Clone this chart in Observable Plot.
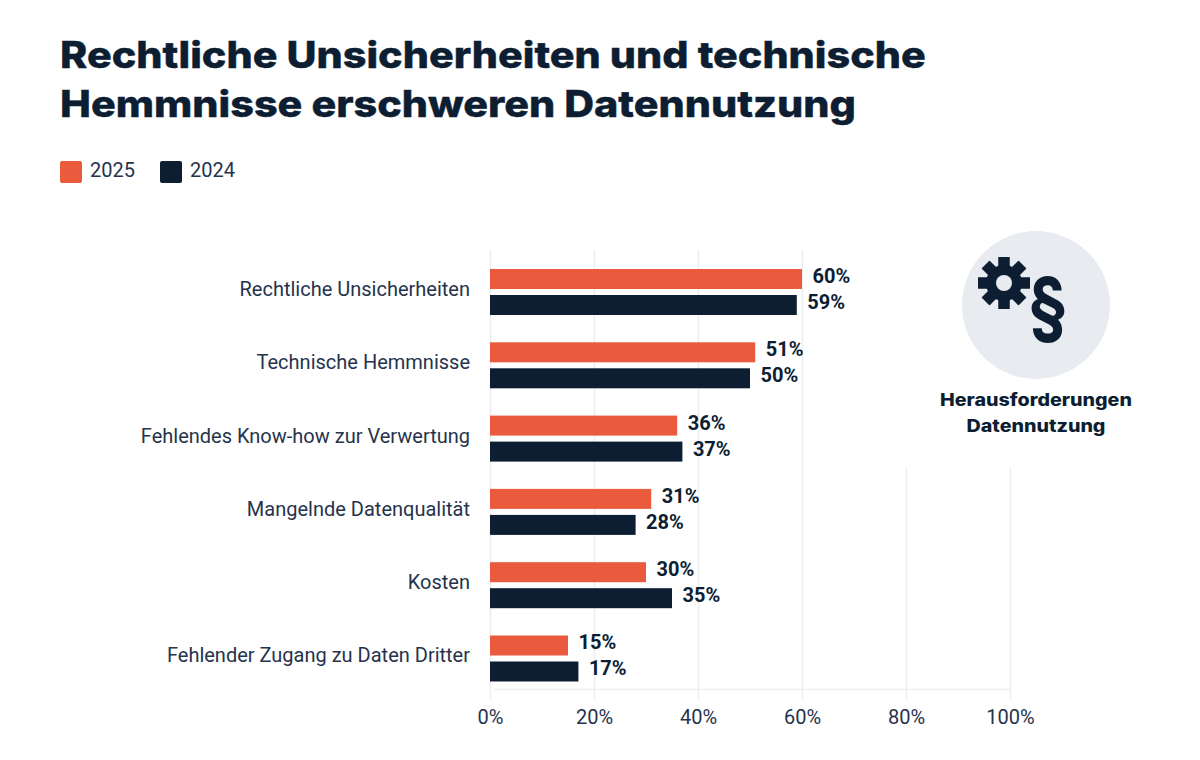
<!DOCTYPE html>
<html lang="de">
<head>
<meta charset="utf-8">
<script src="https://cdn.jsdelivr.net/npm/d3@7"></script>
<script src="https://cdn.jsdelivr.net/npm/@observablehq/plot@0.6"></script>
<style>
html,body{margin:0;padding:0;background:#fff;width:1200px;height:760px;overflow:hidden;}
#page{position:relative;width:1200px;height:760px;}
#head{position:relative;height:210px;}
h1{position:absolute;left:60px;top:30px;margin:0;font:800 37px/49px Inter,sans-serif;color:#0d1e33;white-space:nowrap;transform-origin:0 0;transform:scaleX(1.116);-webkit-text-stroke:0.4px #0d1e33;}
.lg{position:absolute;top:161px;width:22px;height:22px;border-radius:2px;}
.lt{position:absolute;top:157px;font:400 20px/26px Roboto,sans-serif;color:#26334c;}
#chart{position:absolute;left:0;top:210px;}
#panel{position:absolute;left:900px;top:225px;width:272px;height:242px;background:#fff;}
#panel svg{position:absolute;left:0;top:0;}
#cap{position:absolute;left:0;width:272px;top:161.5px;text-align:center;font:800 17px/26px Inter,sans-serif;color:#0d1e33;transform:scaleX(1.157);}
</style>
</head>
<body>
<div id="page">
  <div id="head">
    <h1>Rechtliche Unsicherheiten und technische<br>Hemmnisse erschweren Datennutzung</h1>
    <div class="lg" style="left:60px;background:#e95b3c"></div><div class="lt" style="left:90px">2025</div>
    <div class="lg" style="left:160px;background:#0d1e33"></div><div class="lt" style="left:190px">2024</div>
  </div>
  <div id="chart"></div>
  <div id="panel">
    <svg width="272" height="160" viewBox="0 0 272 160">
      <circle cx="136" cy="80" r="74" fill="#e8ebf0"/>
      <g id="gear" transform="translate(104,58)" fill="#0d1e33"></g>
      <text transform="translate(148,107) scale(0.9,1)" text-anchor="middle" font-family="Inter,sans-serif" font-weight="700" font-size="76" fill="#0d1e33">§</text>
    </svg>
    <div id="cap">Herausforderungen<br>Datennutzung</div>
  </div>
</div>
<script>
const categories = ["Rechtliche Unsicherheiten","Technische Hemmnisse","Fehlendes Know-how zur Verwertung","Mangelnde Datenqualität","Kosten","Fehlender Zugang zu Daten Dritter"];
const values2025 = [60,51,36,31,30,15];
const values2024 = [59,50,37,28,35,17];
const colors = ["#e95b3c","#0d1e33"];
const xTicks = [0,20,40,60,80,100];

const rows2025 = categories.map((c,i)=>({cat:c,v:values2025[i]}));
const rows2024 = categories.map((c,i)=>({cat:c,v:values2024[i]}));

// gear icon
const gear = d3.select("#gear");
for (let a=0;a<8;a++) gear.append("rect").attr("x",-5.5).attr("y",-26).attr("width",11).attr("height",52).attr("transform",`rotate(${a*45})`);
gear.append("circle").attr("r",18);
gear.append("circle").attr("r",8).attr("fill","#e8ebf0");

const labelStyle = {x:"v",y:"cat",text:d=>d.v+"%",dx:10,textAnchor:"start",fontWeight:700,fontSize:20,fill:"#0d1e33"};

const plot = Plot.plot({
  width:1200, height:550,
  marginLeft:490, marginRight:190, marginTop:40, marginBottom:60,
  style:{fontFamily:"Roboto, sans-serif", background:"transparent", overflow:"visible"},
  x:{domain:[0,100], label:null},
  y:{domain:categories, padding:0, insetTop:5.35, insetBottom:4.85, label:null, round:false},
  marks:[
    Plot.ruleX(xTicks,{stroke:"#eceef2",strokeWidth:1.6}),
    Plot.ruleY([0],{y:null,x1:()=>0.77,x2:()=>100,dy:214,stroke:"#eceef2",strokeWidth:1.6}),
    Plot.barX(rows2025,{x:"v",y:"cat",fill:colors[0],insetTop:13.65,insetBottom:39.65}),
    Plot.barX(rows2024,{x:"v",y:"cat",fill:colors[1],insetTop:39.65,insetBottom:13.65}),
    Plot.text(rows2025,{...labelStyle,dy:-16}),
    Plot.text(rows2024,{...labelStyle,dy:10}),
    Plot.axisY({anchor:"left",label:null,tickSize:0,tickPadding:20,fontSize:20,dy:-3,dx:-0.5,color:"#26334c"}),
    Plot.axisX(xTicks,{anchor:"bottom",label:null,tickSize:0,tickPadding:9,fontSize:20,tickFormat:d=>d+"%",color:"#26334c"})
  ]
});
document.getElementById("chart").appendChild(plot);
</script>
</body>
</html>
